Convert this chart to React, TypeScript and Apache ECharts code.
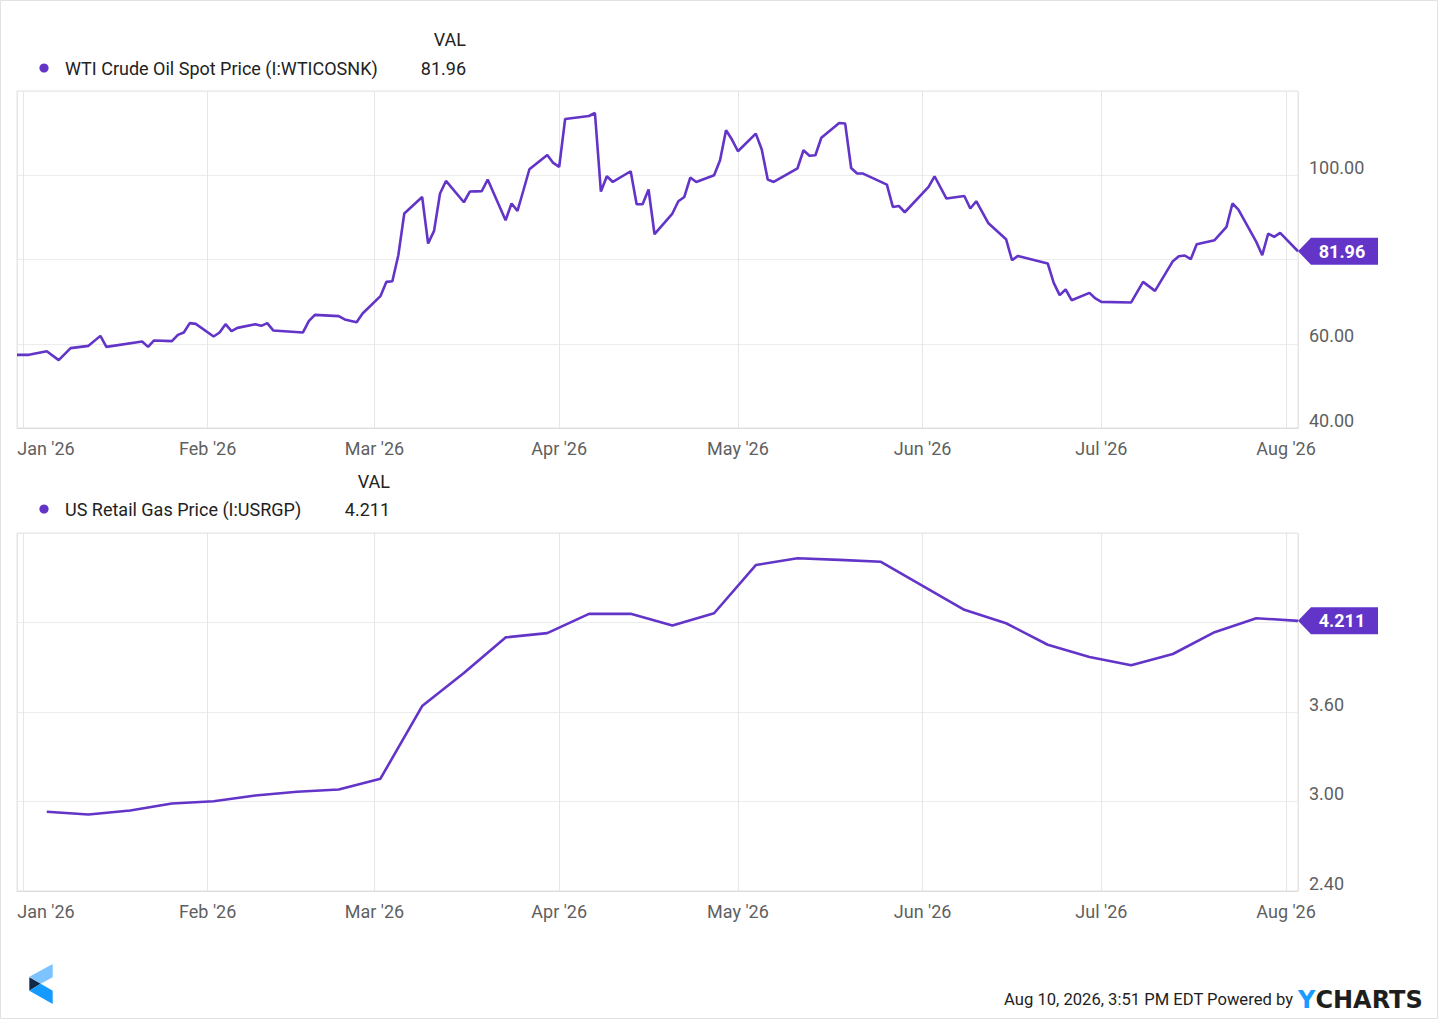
import React, { useEffect, useRef } from 'react';
import * as echarts from 'echarts';

const MONTHS = ['Jan', 'Feb', 'Mar', 'Apr', 'May', 'Jun', 'Jul', 'Aug', 'Sep', 'Oct', 'Nov', 'Dec'];

const wtiDates = [
  '2025-12-31', '2026-01-02', '2026-01-05', '2026-01-07', '2026-01-09', '2026-01-12', '2026-01-14', '2026-01-15', '2026-01-21', '2026-01-22', '2026-01-23', '2026-01-26', '2026-01-27', '2026-01-28', '2026-01-29', '2026-01-30',
  '2026-02-02', '2026-02-03', '2026-02-04', '2026-02-05', '2026-02-06', '2026-02-09', '2026-02-10', '2026-02-11', '2026-02-12', '2026-02-17', '2026-02-18', '2026-02-19', '2026-02-23', '2026-02-24', '2026-02-26', '2026-02-27',
  '2026-03-02', '2026-03-03', '2026-03-04', '2026-03-05', '2026-03-06', '2026-03-09', '2026-03-10', '2026-03-11', '2026-03-12', '2026-03-13', '2026-03-16', '2026-03-17', '2026-03-18', '2026-03-19', '2026-03-20', '2026-03-23', '2026-03-24', '2026-03-25', '2026-03-26', '2026-03-27', '2026-03-30', '2026-03-31',
  '2026-04-01', '2026-04-02', '2026-04-06', '2026-04-07', '2026-04-08', '2026-04-09', '2026-04-10', '2026-04-13', '2026-04-14', '2026-04-15', '2026-04-16', '2026-04-17', '2026-04-20', '2026-04-21', '2026-04-22', '2026-04-23', '2026-04-24', '2026-04-27', '2026-04-28', '2026-04-29', '2026-04-30',
  '2026-05-01', '2026-05-04', '2026-05-05', '2026-05-06', '2026-05-07', '2026-05-11', '2026-05-12', '2026-05-13', '2026-05-14', '2026-05-15', '2026-05-18', '2026-05-19', '2026-05-20', '2026-05-21', '2026-05-22', '2026-05-26', '2026-05-27', '2026-05-28', '2026-05-29',
  '2026-06-02', '2026-06-03', '2026-06-05', '2026-06-08', '2026-06-09', '2026-06-10', '2026-06-12', '2026-06-15', '2026-06-16', '2026-06-17', '2026-06-22', '2026-06-23', '2026-06-24', '2026-06-25', '2026-06-26', '2026-06-29', '2026-06-30',
  '2026-07-01', '2026-07-06', '2026-07-08', '2026-07-10', '2026-07-13', '2026-07-14', '2026-07-15', '2026-07-16', '2026-07-17', '2026-07-20', '2026-07-22', '2026-07-23', '2026-07-24', '2026-07-27', '2026-07-28', '2026-07-29', '2026-07-30', '2026-07-31',
  '2026-08-03',
];

const wtiValues = [
  57.37, 57.37, 58.24, 56.11, 58.96, 59.5, 61.87, 59.26, 60.54, 59.26, 60.78, 60.62, 62.11, 62.68, 64.89, 64.72,
  61.73, 62.68, 64.65, 62.99, 63.77, 64.65, 64.25, 64.89, 63.16, 62.68, 65.43, 66.86, 66.55, 65.76, 65.12, 67.19,
  71.3, 74.69, 74.85, 81.02, 90.91, 94.85, 83.8, 86.79, 95.66, 98.65, 93.59, 96.13, 96.17, 96.2, 98.98, 89.32, 93.29, 91.53, 96.44, 101.42, 104.82, 102.92,
  101.97, 113.36, 114.07, 114.78, 96.13, 99.76, 98.41, 100.95, 93.12, 93.12, 96.61, 86.0, 90.91, 93.83, 94.85, 99.45, 98.41, 100.0, 103.56, 110.68, 108.47,
  105.69, 109.89, 106.1, 98.98, 98.41, 101.66, 105.93, 104.63, 104.75, 108.9, 112.41, 112.27, 101.73, 100.4, 100.4, 97.79, 92.48, 92.72, 91.22,
  97.22, 99.76, 94.47, 95.09, 92.1, 93.83, 88.68, 84.82, 79.83, 80.85, 79.05, 74.45, 71.53, 72.88, 70.34, 72.08, 70.75,
  69.94, 69.8, 74.69, 72.55, 79.6, 80.78, 80.95, 80.07, 83.63, 84.58, 87.73, 93.29, 91.86, 84.18, 81.02, 86.17, 85.36, 86.31,
  81.96,
];

const gasDates = [
  '2026-01-05', '2026-01-12', '2026-01-19', '2026-01-26', '2026-02-02', '2026-02-09', '2026-02-16', '2026-02-23',
  '2026-03-02', '2026-03-09', '2026-03-16', '2026-03-23', '2026-03-30', '2026-04-06', '2026-04-13', '2026-04-20', '2026-04-27',
  '2026-05-04', '2026-05-11', '2026-05-18', '2026-05-25', '2026-06-01', '2026-06-08', '2026-06-15', '2026-06-22', '2026-06-29',
  '2026-07-06', '2026-07-13', '2026-07-20', '2026-07-27', '2026-08-03',
];

const gasValues = [
  2.931, 2.913, 2.94, 2.987, 3.002, 3.04, 3.065, 3.08,
  3.153, 3.64, 3.862, 4.1, 4.129, 4.258, 4.258, 4.18, 4.262,
  4.585, 4.631, 4.62, 4.607, 4.445, 4.285, 4.195, 4.051, 3.969,
  3.913, 3.989, 4.135, 4.229, 4.211,
];

const wtiName = 'WTI Crude Oil Spot Price (I:WTICOSNK)';
const gasName = 'US Retail Gas Price (I:USRGP)';
const valHeader = 'VAL';
const footerText = 'Aug 10, 2026, 3:51 PM EDT Powered by';
const brandY = 'Y';
const brandRest = 'CHARTS';

const PURPLE = '#6334c8';
const FONT = 'Roboto, sans-serif';
const AXIS_COLOR = '#5f5f5f';

const X_MIN = new Date(2025, 11, 31).getTime();
const X_MAX = new Date(2026, 7, 3).getTime();
const DAY = 86400000;

function monthLabel(v: number) {
  const d = new Date(v);
  if (d.getDate() !== 1) return '';
  const s = MONTHS[d.getMonth()] + " '" + String(d.getFullYear()).slice(2);
  if (d.getMonth() === 0) return '{first|' + s + '}';
  return s;
}

function makeXAxis(gridIndex: number) {
  return {
    type: 'time',
    gridIndex,
    min: X_MIN,
    max: X_MAX,
    minInterval: 28 * DAY,
    maxInterval: 31 * DAY,
    splitNumber: 7,
    axisLine: { show: true, lineStyle: { color: '#dcdcdc', width: 1 } },
    axisTick: { show: false },
    splitLine: { show: true, lineStyle: { color: '#e6e6e6', width: 1 } },
    axisLabel: {
      formatter: (v: number) => monthLabel(v),
      color: AXIS_COLOR,
      fontSize: 18,
      fontFamily: FONT,
      margin: 11,
      hideOverlap: false,
      showMinLabel: false,
      showMaxLabel: false,
      rich: {
        first: { fontSize: 18, fontFamily: FONT, color: AXIS_COLOR, padding: [0, 0, 0, 46] },
      },
    },
  };
}

function badge(coordDate: string, val: number, text: string) {
  return {
    silent: true,
    symbol: 'path://M0,13.5L13,0L80,0L80,27L13,27Z',
    symbolSize: [80, 27],
    symbolOffset: ['50%', 0],
    symbolKeepAspect: false,
    itemStyle: { color: PURPLE },
    label: {
      show: true,
      position: 'inside',
      formatter: () => text,
      color: '#ffffff',
      fontWeight: 'bold',
      fontSize: 18,
      fontFamily: FONT,
      offset: [4, 0],
    },
    data: [{ coord: [coordDate, val], value: val }],
  };
}

export default function App() {
  const ref = useRef<HTMLDivElement>(null);

  useEffect(() => {
    document.body.style.margin = '0';
    const chart = echarts.init(ref.current as HTMLDivElement, null, { renderer: 'svg' });

    const wtiData = wtiDates.map((d, i) => [d, wtiValues[i]]);
    const gasData = gasDates.map((d, i) => [d, gasValues[i]]);
    const wtiLast = wtiValues[wtiValues.length - 1];
    const gasLast = gasValues[gasValues.length - 1];
    const wtiLastText = wtiLast.toFixed(2);
    const gasLastText = gasLast.toFixed(3);

    const textEl = (text: string, x: number, y: number, opts: any = {}) => ({
      type: 'text',
      x,
      y,
      silent: true,
      style: {
        text,
        fill: opts.fill || '#222222',
        font: opts.font || '18px ' + FONT,
        textAlign: opts.align || 'left',
        textVerticalAlign: 'middle',
        align: opts.align || 'left',
        verticalAlign: 'middle',
      },
    });

    const option: any = {
      animation: false,
      backgroundColor: '#ffffff',
      grid: [
        { left: 17, top: 91, width: 1281, height: 337, show: true, borderColor: '#e3e3e3', borderWidth: 1, containLabel: false, outerBoundsMode: 'none' },
        { left: 17, top: 533, width: 1281, height: 358, show: true, borderColor: '#e3e3e3', borderWidth: 1, containLabel: false, outerBoundsMode: 'none' },
      ],
      xAxis: [makeXAxis(0), makeXAxis(1)],
      yAxis: [
        {
          type: 'value',
          gridIndex: 0,
          position: 'right',
          min: 40,
          max: 120,
          interval: 20,
          axisLine: { show: false },
          axisTick: { show: false },
          splitLine: { show: true, lineStyle: { color: '#ececec' } },
          axisLabel: {
            color: AXIS_COLOR,
            fontSize: 18,
            fontFamily: FONT,
            margin: 11,
            verticalAlign: 'bottom',
            lineHeight: 16,
            showMaxLabel: false,
            formatter: (v: number) => (v === 80 || v === 120 ? '' : v.toFixed(2)),
          },
        },
        {
          type: 'value',
          gridIndex: 1,
          position: 'right',
          min: 2.4,
          max: 4.8,
          interval: 0.6,
          axisLine: { show: false },
          axisTick: { show: false },
          splitLine: { show: true, lineStyle: { color: '#ececec' } },
          axisLabel: {
            color: AXIS_COLOR,
            fontSize: 18,
            fontFamily: FONT,
            margin: 11,
            verticalAlign: 'bottom',
            lineHeight: 16,
            showMaxLabel: false,
            formatter: (v: number) => (Math.abs(v - 4.2) < 0.01 || Math.abs(v - 4.8) < 0.01 ? '' : v.toFixed(2)),
          },
        },
      ],
      series: [
        {
          type: 'line',
          name: wtiName,
          xAxisIndex: 0,
          yAxisIndex: 0,
          data: wtiData,
          showSymbol: false,
          symbol: 'none',
          lineStyle: { color: PURPLE, width: 2.6 },
          itemStyle: { color: PURPLE },
          markPoint: badge(wtiDates[wtiDates.length - 1], wtiLast, wtiLastText),
          z: 3,
        },
        {
          type: 'line',
          name: gasName,
          xAxisIndex: 1,
          yAxisIndex: 1,
          data: gasData,
          showSymbol: false,
          symbol: 'none',
          lineStyle: { color: PURPLE, width: 2.6 },
          itemStyle: { color: PURPLE },
          markPoint: badge(gasDates[gasDates.length - 1], gasLast, gasLastText),
          z: 3,
        },
      ],
      graphic: [
        {
          type: 'rect',
          silent: true,
          shape: { x: 0.5, y: 0.5, width: 1437, height: 1018 },
          style: { fill: 'none', stroke: '#e2e2e2', lineWidth: 1 },
          z: -10,
        },
        textEl(valHeader, 466, 39, { align: 'right' }),
        { type: 'circle', silent: true, shape: { cx: 44, cy: 68, r: 4.6 }, style: { fill: PURPLE } },
        textEl(wtiName, 65, 68),
        textEl(wtiLastText, 466, 68, { align: 'right' }),
        textEl(valHeader, 390, 481, { align: 'right' }),
        { type: 'circle', silent: true, shape: { cx: 44, cy: 509, r: 4.6 }, style: { fill: PURPLE } },
        textEl(gasName, 65, 509),
        textEl(gasLastText, 390, 509, { align: 'right' }),
        {
          type: 'polygon',
          silent: true,
          shape: { points: [[29.3, 976.7], [52.7, 964], [52.7, 977.3], [40.7, 983.7]] },
          style: { fill: '#7cc3ff' },
        },
        {
          type: 'polygon',
          silent: true,
          shape: { points: [[29.3, 977.3], [40.7, 983.7], [29.3, 990.7]] },
          style: { fill: '#0f2a47' },
        },
        {
          type: 'polygon',
          silent: true,
          shape: { points: [[29.3, 990.7], [40.7, 983.7], [52.7, 990.7], [52.7, 1004]] },
          style: { fill: '#159bff' },
        },
        textEl(footerText, 1293, 999, { align: 'right', font: '16.6px ' + FONT, fill: '#1e1e1e' }),
        {
          type: 'text',
          x: 1298,
          y: 1000,
          silent: true,
          style: {
            text: '{y|' + brandY + '}{c|' + brandRest + '}',
            textVerticalAlign: 'middle',
            verticalAlign: 'middle',
            textAlign: 'left',
            align: 'left',
            rich: {
              y: { fill: '#1a9bff', color: '#1a9bff', font: 'bold 24px "DejaVu Sans", sans-serif', fontSize: 24, fontWeight: 'bold', fontFamily: '"DejaVu Sans", sans-serif' },
              c: { fill: '#1e1e1e', color: '#1e1e1e', font: 'bold 24px "DejaVu Sans", sans-serif', fontSize: 24, fontWeight: 'bold', fontFamily: '"DejaVu Sans", sans-serif' },
            },
          },
        },
      ],
    };

    chart.setOption(option);
    return () => chart.dispose();
  }, []);

  return <div ref={ref} style={{ width: 1439, height: 1020 }} />;
}
